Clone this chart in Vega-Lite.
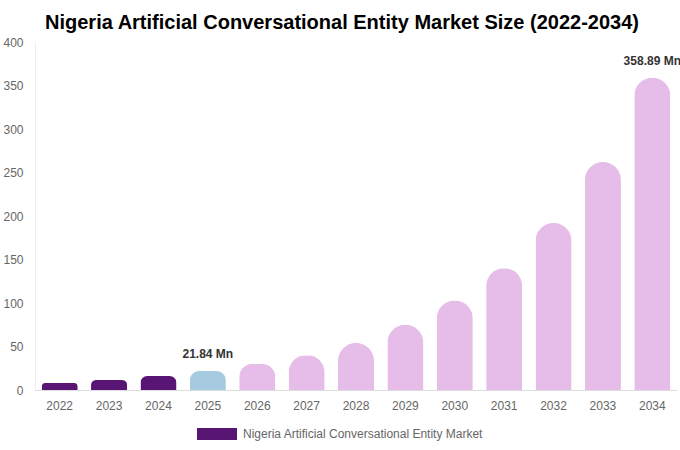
{
  "$schema": "https://vega.github.io/schema/vega-lite/v6.json",
  "width": 680,
  "height": 450,
  "autosize": {"type": "fit", "contains": "padding"},
  "padding": {"left": 2, "right": 0, "top": 13, "bottom": 39},
  "background": "white",
  "title": {
    "text": "Nigeria Artificial Conversational Entity Market Size (2022-2034)",
    "font": "Liberation Sans",
    "fontSize": 20,
    "fontWeight": "bold",
    "color": "#000000",
    "anchor": "middle",
    "frame": "bounds",
    "offset": 3
  },
  "data": {
    "values": [
      {"year": "2022", "value": 8, "phase": "Nigeria Artificial Conversational Entity Market", "label": ""},
      {"year": "2023", "value": 11.5, "phase": "Nigeria Artificial Conversational Entity Market", "label": ""},
      {"year": "2024", "value": 16, "phase": "Nigeria Artificial Conversational Entity Market", "label": ""},
      {"year": "2025", "value": 21.84, "phase": "base", "label": "21.84 Mn"},
      {"year": "2026", "value": 30, "phase": "forecast", "label": ""},
      {"year": "2027", "value": 40, "phase": "forecast", "label": ""},
      {"year": "2028", "value": 54, "phase": "forecast", "label": ""},
      {"year": "2029", "value": 75, "phase": "forecast", "label": ""},
      {"year": "2030", "value": 103, "phase": "forecast", "label": ""},
      {"year": "2031", "value": 140, "phase": "forecast", "label": ""},
      {"year": "2032", "value": 192, "phase": "forecast", "label": ""},
      {"year": "2033", "value": 262, "phase": "forecast", "label": ""},
      {"year": "2034", "value": 358.89, "phase": "forecast", "label": "358.89 Mn"}
    ]
  },
  "encoding": {
    "x": {
      "field": "year",
      "type": "ordinal",
      "title": null,
      "scale": {"paddingInner": 0.27, "paddingOuter": 0.135},
      "axis": {
        "labelAngle": 0,
        "labelFont": "Liberation Sans",
        "labelFontSize": 12,
        "labelColor": "#666666",
        "ticks": false,
        "labelPadding": 10,
        "domainColor": "#dddddd"
      }
    },
    "y": {
      "field": "value",
      "type": "quantitative",
      "title": null,
      "scale": {"domain": [0, 400]},
      "axis": {
        "values": [0, 50, 100, 150, 200, 250, 300, 350, 400],
        "grid": false,
        "ticks": false,
        "labelFont": "Liberation Sans",
        "labelFontSize": 12,
        "labelColor": "#666666",
        "labelPadding": 12,
        "domain": true,
        "domainColor": "#eeeeee"
      }
    }
  },
  "layer": [
    {
      "mark": {"type": "bar", "cornerRadiusTopLeft": 18, "cornerRadiusTopRight": 18},
      "encoding": {
        "color": {
          "field": "phase",
          "type": "nominal",
          "scale": {
            "domain": ["Nigeria Artificial Conversational Entity Market", "base", "forecast"],
            "range": ["#581574", "#a6cbe0", "#e6bde9"]
          },
          "legend": {
            "values": ["Nigeria Artificial Conversational Entity Market"],
            "title": null,
            "orient": "none",
            "legendX": 172,
            "legendY": 382,
            "symbolType": "M-2,-0.6H2V0.6H-2Z",
            "symbolSize": 400,
            "symbolStrokeWidth": 0,
            "labelOffset": 16,
            "labelLimit": 400,
            "labelFont": "Liberation Sans",
            "labelFontSize": 12,
            "labelColor": "#666666"
          }
        }
      }
    },
    {
      "mark": {
        "type": "text",
        "dy": -10,
        "font": "Liberation Sans",
        "fontSize": 12,
        "fontWeight": "bold",
        "color": "#333333",
        "baseline": "bottom"
      },
      "encoding": {"text": {"field": "label"}}
    }
  ],
  "config": {"view": {"stroke": null}}
}
